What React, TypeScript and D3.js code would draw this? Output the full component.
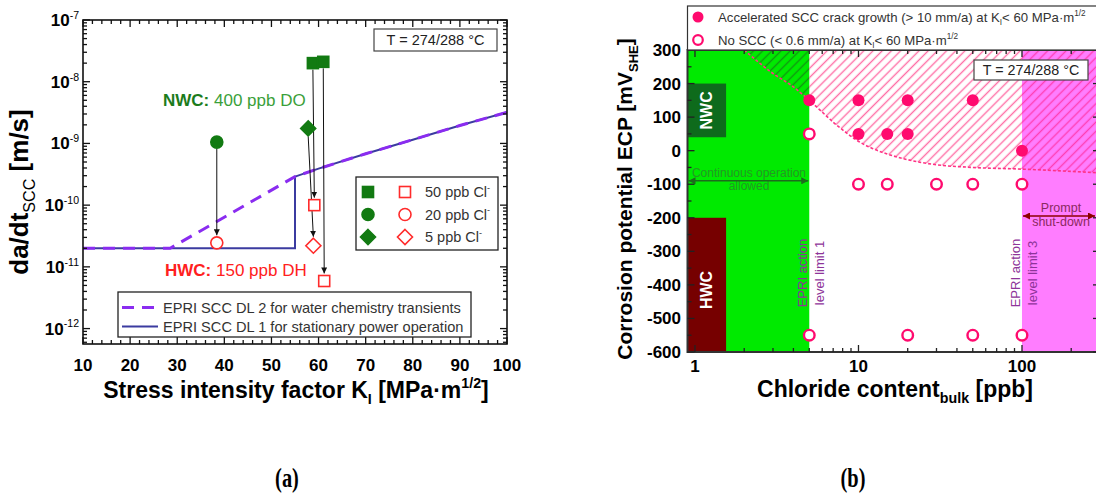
import React from 'react';
import * as d3 from 'd3';

const W = 1096;
const H = 495;
const FONT = '"Liberation Sans", Arial, sans-serif';
const SERIF = 'Liberation Serif, DejaVu Serif, Times New Roman, serif';

// ---------- panel (a): SCC crack growth rate vs K_I ----------
const kTicks = [10, 20, 30, 40, 50, 60, 70, 80, 90, 100];
const rateDecades = [-12, -11, -10, -9, -8, -7];

// EPRI disposition lines
const dl2K = [10, 28.5, 55, 60, 70, 80, 90, 100];
const dl2Rate = [2e-11, 2e-11, 2.9e-10, 3.9e-10, 6.8e-10, 1.15e-9, 1.95e-9, 3.2e-9];
const dl1K = [10, 55, 55, 60, 70, 80, 90, 100];
const dl1Rate = [2e-11, 2e-11, 2.9e-10, 3.9e-10, 6.8e-10, 1.15e-9, 1.95e-9, 3.2e-9];

const chlorideLabels = ['50 ppb Cl', '20 ppb Cl', '5 ppb Cl'];
const chlorideShapes = ['square', 'circle', 'diamond'];

// NWC -> HWC pairs (index into chlorideShapes)
const pairShape = [0, 0, 1, 2];
const nwcK = [58.8, 61.0, 38.4, 57.8];
const nwcRate = [2.0e-8, 2.1e-8, 1.05e-9, 1.75e-9];
const hwcK = [59.1, 61.2, 38.4, 58.9];
const hwcRate = [1.0e-10, 5.9e-12, 2.45e-11, 2.2e-11];

// ---------- panel (b): ECP vs chloride ----------
const clTicks = [1, 10, 100];
const ecpTicks = [-600, -500, -400, -300, -200, -100, 0, 100, 200, 300];

const accelCl = [5, 10, 20, 50, 10, 15, 20, 100];
const accelEcp = [150, 150, 150, 150, 50, 50, 50, 0];
const noSccCl = [5, 10, 15, 30, 50, 100, 5, 20, 50, 100];
const noSccEcp = [50, -100, -100, -100, -100, -100, -550, -550, -550, -550];

const boundaryCl = [2, 3, 4, 5, 6, 7, 8, 10, 12, 15, 20, 30, 50, 100, 300];
const boundaryEcp = [300, 230, 190, 150, 115, 85, 62, 28, 8, -10, -27, -42, -50, -55, -66];

const actionLevels = [5, 100];
const actionNames = ['level limit 1', 'level limit 3'];
const nwcBand = [40, 200];
const hwcBand = [-600, -200];
const bandMaxCl = 1.55;

const GREEN = '#127a12';
const RED = '#ff2b2b';
const PINK = '#ff0a6e';

type Seg = { t: string; sub?: boolean; sup?: boolean; bold?: boolean; fill?: string };

function rich(segs: Seg[], size: number) {
  let shift = 0;
  return segs.map((s, i) => {
    const target = s.sub ? size * 0.28 : s.sup ? -size * 0.42 : 0;
    const dy = target - shift;
    shift = target;
    return (
      <tspan
        key={i}
        dy={dy}
        fontSize={s.sub || s.sup ? size * 0.62 : size}
        fontWeight={s.bold === undefined ? undefined : s.bold ? 'bold' : 'normal'}
        fill={s.fill}
      >
        {s.t}
      </tspan>
    );
  });
}

function logTicks(lo: number, hi: number) {
  const out: { v: number; major: boolean }[] = [];
  for (let e = Math.floor(Math.log10(lo)); e <= Math.ceil(Math.log10(hi)); e++) {
    for (let m = 1; m <= 9; m++) {
      const v = m * 10 ** e;
      if (v >= lo * 1.001 && v <= hi * 1.001) out.push({ v, major: m === 1 });
    }
  }
  return out;
}

function Glyph({ shape, cx, cy, filled }: { shape: string; cx: number; cy: number; filled: boolean }) {
  const fill = filled ? GREEN : '#fff';
  const stroke = filled ? GREEN : RED;
  if (shape === 'square')
    return <rect x={cx - 5.5} y={cy - 5.5} width={11} height={11} fill={fill} stroke={stroke} strokeWidth={1.6} />;
  if (shape === 'circle') return <circle cx={cx} cy={cy} r={6} fill={fill} stroke={stroke} strokeWidth={1.6} />;
  return (
    <path
      d={`M${cx},${cy - 7.5}L${cx + 7.5},${cy}L${cx},${cy + 7.5}L${cx - 7.5},${cy}Z`}
      fill={fill}
      stroke={stroke}
      strokeWidth={1.6}
    />
  );
}

function PanelA() {
  const x = d3.scaleLinear().domain([10, 100]).range([83, 507]);
  const y = d3.scaleLog().domain([10 ** -12.25, 1e-7]).range([344, 20]);
  const [L, R] = x.range();
  const [B, T] = y.range();
  const line = d3.line();
  const dl1 = line(dl1K.map((k, i) => [x(k), y(dl1Rate[i])]));
  const dl2 = line(dl2K.map((k, i) => [x(k), y(dl2Rate[i])]));
  const xt = d3.range(10, 100.01, 2);
  const yt = logTicks(10 ** -12.25, 1e-7);

  return (
    <g>
      <clipPath id="clipA">
        <rect x={L} y={T} width={R - L} height={B - T} />
      </clipPath>
      <g clipPath="url(#clipA)">
        <path d={dl1 || ''} fill="none" stroke="#3b3ba0" strokeWidth={2} />
        <path d={dl2 || ''} fill="none" stroke="#8a2cf0" strokeWidth={3} strokeDasharray="12 8" />
      </g>

      {/* arrows NWC -> HWC */}
      {nwcK.map((k, i) => {
        const sh = chlorideShapes[pairShape[i]];
        const off = sh === 'diamond' ? 8 : 6.5;
        return (
          <line
            key={'ar' + i}
            x1={x(k)}
            y1={y(nwcRate[i]) + off}
            x2={x(hwcK[i])}
            y2={y(hwcRate[i]) - off - 1}
            stroke="#111"
            strokeWidth={1}
            markerEnd="url(#ah)"
          />
        );
      })}
      {nwcK.map((k, i) => (
        <Glyph key={'n' + i} shape={chlorideShapes[pairShape[i]]} cx={x(k)} cy={y(nwcRate[i])} filled />
      ))}
      {hwcK.map((k, i) => (
        <Glyph key={'h' + i} shape={chlorideShapes[pairShape[i]]} cx={x(k)} cy={y(hwcRate[i])} filled={false} />
      ))}

      {/* frame + ticks */}
      <rect x={L} y={T} width={R - L} height={B - T} fill="none" stroke="#111" strokeWidth={1.6} />
      {xt.map((v) => {
        const len = Math.abs(v % 10) < 1e-6 ? 7 : 4;
        return (
          <g key={'xt' + v} stroke="#111" strokeWidth={1.3}>
            <line x1={x(v)} x2={x(v)} y1={B} y2={B - len} />
            <line x1={x(v)} x2={x(v)} y1={T} y2={T + len} />
          </g>
        );
      })}
      {yt.map((t, i) => {
        const len = t.major ? 7 : 4;
        return (
          <g key={'yt' + i} stroke="#111" strokeWidth={1.3}>
            <line x1={L} x2={L + len} y1={y(t.v)} y2={y(t.v)} />
            <line x1={R} x2={R - len} y1={y(t.v)} y2={y(t.v)} />
          </g>
        );
      })}
      {kTicks.map((v) => (
        <text key={'xl' + v} x={x(v)} y={371} textAnchor="middle" fontSize={17} fontWeight="bold">
          {v}
        </text>
      ))}
      {rateDecades.map((d) => (
        <text key={'yl' + d} x={79} y={y(10 ** d) + 6} textAnchor="end" fontSize={17} fontWeight="bold">
          {rich([{ t: '10' }, { t: String(d), sup: true, bold: false }], 17)}
        </text>
      ))}

      {/* axis titles */}
      <text x={296} y={398} textAnchor="middle" fontSize={23} fontWeight="bold">
        {rich([{ t: 'Stress intensity factor K' }, { t: 'I', sub: true }, { t: ' [MPa·m' }, { t: '1/2', sup: true }, { t: ']' }], 23)}
      </text>
      <text transform="translate(28,192) rotate(-90)" textAnchor="middle" fontSize={26} fontWeight="bold">
        {rich([{ t: 'da/dt' }, { t: 'SCC', sub: true, bold: false }, { t: ' [m/s]' }], 26)}
      </text>

      {/* annotations */}
      <text x={163} y={106} fontSize={17} fill="#3aa03a">
        <tspan fontWeight="bold" fill="#1c7c1c">NWC:</tspan>
        <tspan> 400 ppb DO</tspan>
      </text>
      <text x={165} y={276} fontSize={17} fill="#ff2020">
        <tspan fontWeight="bold">HWC:</tspan>
        <tspan> 150 ppb DH</tspan>
      </text>
      <rect x={374} y={29} width={123} height={22} fill="#fff" stroke="#444" strokeWidth={1.2} />
      <text x={435.5} y={45} textAnchor="middle" fontSize={14.5} fill="#222">
        T = 274/288 °C
      </text>

      {/* marker legend */}
      <rect x={356} y={177} width={142} height={73} fill="#fff" stroke="#222" strokeWidth={1.3} />
      {chlorideLabels.map((lab, i) => {
        const cy = 192 + i * 22.5;
        return (
          <g key={'lg' + i}>
            <Glyph shape={chlorideShapes[i]} cx={368} cy={cy} filled />
            <Glyph shape={chlorideShapes[i]} cx={405} cy={cy} filled={false} />
            <text x={425} y={cy + 5} fontSize={14.5} fill="#333">
              {rich([{ t: lab }, { t: '-', sup: true }], 14.5)}
            </text>
          </g>
        );
      })}

      {/* line legend */}
      <rect x={118} y={292} width={353} height={45} fill="#fff" stroke="#222" strokeWidth={1.3} />
      <line x1={122} x2={158} y1={307.5} y2={307.5} stroke="#8a2cf0" strokeWidth={3} strokeDasharray="12 8" />
      <text x={163} y={312.5} fontSize={14.6} fill="#333">
        EPRI SCC DL 2 for water chemistry transients
      </text>
      <line x1={122} x2={158} y1={326.5} y2={326.5} stroke="#3b3ba0" strokeWidth={2} />
      <text x={163} y={331.5} fontSize={14.6} fill="#333">
        EPRI SCC DL 1 for stationary power operation
      </text>
    </g>
  );
}

function PanelB() {
  const x = d3.scaleLog().domain([0.9, 300]).range([687.5, 1100]);
  const y = d3.scaleLinear().domain([-600, 300]).range([352, 50]);
  const [L, R] = x.range();
  const [B, T] = y.range();
  const idx = boundaryCl.map((_, i) => i);
  const area = d3
    .area<number>()
    .x((i) => x(boundaryCl[i]))
    .y0(T)
    .y1((i) => y(boundaryEcp[i]))
    .curve(d3.curveMonotoneX)(idx);
  const bline = d3
    .line<number>()
    .x((i) => x(boundaryCl[i]))
    .y((i) => y(boundaryEcp[i]))
    .curve(d3.curveMonotoneX)(idx);
  const xt = logTicks(0.9, 300);
  const yt = d3.range(-600, 301, 50);
  const xb = x(bandMaxCl);
  const x1 = x(actionLevels[0]);
  const x2 = x(actionLevels[1]);
  // hatch pattern per background zone
  const zones = [
    { id: 'hz0', a: L, b: x1, pat: 'url(#hatchG)' },
    { id: 'hz1', a: x1, b: x2, pat: 'url(#hatchP)' },
    { id: 'hz2', a: x2, b: R, pat: 'url(#hatchM)' },
  ];

  return (
    <g>
      <clipPath id="clipB">
        <rect x={L} y={T} width={R - L} height={B - T} />
      </clipPath>
      {zones.map((z) => (
        <clipPath key={z.id} id={z.id}>
          <rect x={z.a} y={T} width={z.b - z.a} height={B - T} />
        </clipPath>
      ))}
      <g clipPath="url(#clipB)">
        <rect x={L} y={T} width={x1 - L} height={B - T} fill="#00ea00" />
        <rect x={x2} y={T} width={R - x2} height={B - T} fill="#ff7dff" />
        <rect x={L} y={y(nwcBand[1])} width={xb - L} height={y(nwcBand[0]) - y(nwcBand[1])} fill="#0e6b1c" />
        <rect x={L} y={y(hwcBand[1])} width={xb - L} height={y(hwcBand[0]) - y(hwcBand[1])} fill="#760000" />
        {zones.map((z) => (
          <path key={'ha' + z.id} d={area || ''} fill={z.pat} clipPath={`url(#${z.id})`} />
        ))}
        <path d={bline || ''} fill="none" stroke="#ff3385" strokeWidth={1.6} strokeDasharray="3 2" />
      </g>

      <text
        transform={`translate(${(L + xb) / 2},${y((nwcBand[0] + nwcBand[1]) / 2)}) rotate(-90)`}
        textAnchor="middle"
        dominantBaseline="central"
        fill="#fff"
        fontWeight="bold"
        fontSize={16}
      >
        NWC
      </text>
      <text
        transform={`translate(${(L + xb) / 2},290) rotate(-90)`}
        textAnchor="middle"
        dominantBaseline="central"
        fill="#fff"
        fontWeight="bold"
        fontSize={16}
      >
        HWC
      </text>

      {/* continuous operation */}
      <text x={749} y={177} textAnchor="middle" fontSize={12} fill="#2a8a2a" opacity={0.85}>
        Continuous operation
      </text>
      <text x={749} y={190} textAnchor="middle" fontSize={12} fill="#2a8a2a" opacity={0.85}>
        allowed
      </text>
      <line
        x1={L + 1}
        x2={x1 - 1}
        y1={y(-90)}
        y2={y(-90)}
        stroke="#1d6b1d"
        strokeWidth={1.5}
        markerStart="url(#ahg)"
        markerEnd="url(#ahg)"
      />
      {/* prompt shut-down */}
      <text x={1061} y={212} textAnchor="middle" fontSize={12.5} fill="#8a2a60">
        Prompt
      </text>
      <text x={1061} y={226} textAnchor="middle" fontSize={12.5} fill="#8a2a60">
        shut-down
      </text>
      <line
        x1={x2 + 1}
        x2={1095}
        y1={216}
        y2={216}
        stroke="#8b0000"
        strokeWidth={1.5}
        markerStart="url(#ahr)"
        markerEnd="url(#ahr)"
      />

      {/* EPRI action level labels */}
      {actionLevels.map((c, i) => (
        <g key={'al' + i} fill="#8e3499" fontSize={13}>
          <text transform={`translate(${x(c) - 2},273) rotate(-90)`} textAnchor="middle">
            EPRI action
          </text>
          <text transform={`translate(${x(c) + 15},273) rotate(-90)`} textAnchor="middle">
            {actionNames[i]}
          </text>
        </g>
      ))}

      {/* points */}
      {noSccCl.map((c, i) => (
        <circle key={'o' + i} cx={x(c)} cy={y(noSccEcp[i])} r={5.3} fill="#fff" stroke={PINK} strokeWidth={2.4} />
      ))}
      {accelCl.map((c, i) => (
        <circle key={'f' + i} cx={x(c)} cy={y(accelEcp[i])} r={6} fill={PINK} />
      ))}

      {/* frame + ticks */}
      <rect x={L} y={T} width={R - L} height={B - T} fill="none" stroke="#333" strokeWidth={2} />
      {xt.map((t, i) => {
        const len = t.major ? 7 : 4;
        return (
          <g key={'xt' + i} stroke="#222" strokeWidth={1.3}>
            <line x1={x(t.v)} x2={x(t.v)} y1={B} y2={B - len} />
            <line x1={x(t.v)} x2={x(t.v)} y1={T} y2={T + len} />
          </g>
        );
      })}
      {yt.map((v) => {
        const len = v % 100 === 0 ? 7 : 4;
        return (
          <g key={'yt' + v} stroke="#222" strokeWidth={1.3}>
            <line x1={L} x2={L + len} y1={y(v)} y2={y(v)} />
            <line x1={R} x2={R - len} y1={y(v)} y2={y(v)} />
          </g>
        );
      })}
      {clTicks.map((v) => (
        <text key={'xl' + v} x={x(v)} y={372} textAnchor="middle" fontSize={17} fontWeight="bold">
          {v}
        </text>
      ))}
      {ecpTicks.map((v) => (
        <text key={'yl' + v} x={681} y={y(v) + 6} textAnchor="end" fontSize={17} fontWeight="bold">
          {v}
        </text>
      ))}

      <rect x={974} y={60} width={114} height={20} fill="#fff" stroke="#444" strokeWidth={1.2} />
      <text x={1031} y={75} textAnchor="middle" fontSize={14.3} fill="#222">
        T = 274/288 °C
      </text>

      {/* legend */}
      <rect x={L} y={6} width={420} height={44} fill="#fff" stroke="#333" strokeWidth={1.2} />
      <circle cx={698} cy={17} r={5.5} fill={PINK} />
      <circle cx={698} cy={40} r={4.8} fill="#fff" stroke={PINK} strokeWidth={2.2} />
      <text x={718} y={21.5} fontSize={13.2} fill="#333">
        {rich(
          [
            { t: 'Accelerated SCC crack growth (> 10 mm/a) at K' },
            { t: 'I', sub: true },
            { t: '< 60 MPa·m' },
            { t: '1/2', sup: true },
          ],
          13.2
        )}
      </text>
      <text x={718} y={44.5} fontSize={13.2} fill="#333">
        {rich(
          [{ t: 'No SCC (< 0.6 mm/a) at K' }, { t: 'I', sub: true }, { t: '< 60 MPa·m' }, { t: '1/2', sup: true }],
          13.2
        )}
      </text>

      {/* axis titles */}
      <text x={895} y={397} textAnchor="middle" fontSize={23} fontWeight="bold">
        {rich([{ t: 'Chloride content' }, { t: 'bulk', sub: true }, { t: ' [ppb]' }], 23)}
      </text>
      <text transform="translate(632,199) rotate(-90)" textAnchor="middle" fontSize={21} fontWeight="bold">
        {rich([{ t: 'Corrosion potential ECP [mV' }, { t: 'SHE', sub: true }, { t: ']' }], 21)}
      </text>
    </g>
  );
}

function HatchPattern({ id, color }: { id: string; color: string }) {
  return (
    <pattern id={id} patternUnits="userSpaceOnUse" width={6.5} height={6.5} patternTransform="rotate(45)">
      <line x1={3.25} y1={0} x2={3.25} y2={6.5} stroke={color} strokeWidth={1.4} />
    </pattern>
  );
}

export default function App() {
  return (
    <svg
      width={W}
      height={H}
      viewBox={`0 0 ${W} ${H}`}
      style={{ position: 'absolute', left: 0, top: 0, background: '#fff' }}
      fontFamily={FONT}
    >
      <defs>
        <marker id="ah" viewBox="0 0 10 10" refX="10" refY="5" markerWidth="6" markerHeight="6" orient="auto" markerUnits="userSpaceOnUse">
          <path d="M0,0L10,5L0,10z" fill="#111" />
        </marker>
        <marker id="ahg" viewBox="0 0 10 10" refX="10" refY="5" markerWidth="7" markerHeight="7" orient="auto-start-reverse" markerUnits="userSpaceOnUse">
          <path d="M0,0L10,5L0,10z" fill="#1d6b1d" />
        </marker>
        <marker id="ahr" viewBox="0 0 10 10" refX="10" refY="5" markerWidth="7" markerHeight="7" orient="auto-start-reverse" markerUnits="userSpaceOnUse">
          <path d="M0,0L10,5L0,10z" fill="#8b0000" />
        </marker>
        <HatchPattern id="hatchG" color="#129612" />
        <HatchPattern id="hatchP" color="#ff6fa6" />
        <HatchPattern id="hatchM" color="#ff3fb4" />
      </defs>
      <rect width={W} height={H} fill="#fff" />
      <PanelA />
      <PanelB />
      <text
        transform="translate(287,487) scale(0.85,1.15)"
        textAnchor="middle"
        fontFamily={SERIF}
        fontWeight="bold"
        fontSize={24}
      >
        (a)
      </text>
      <text
        transform="translate(853,487) scale(0.85,1.15)"
        textAnchor="middle"
        fontFamily={SERIF}
        fontWeight="bold"
        fontSize={24}
      >
        (b)
      </text>
    </svg>
  );
}
